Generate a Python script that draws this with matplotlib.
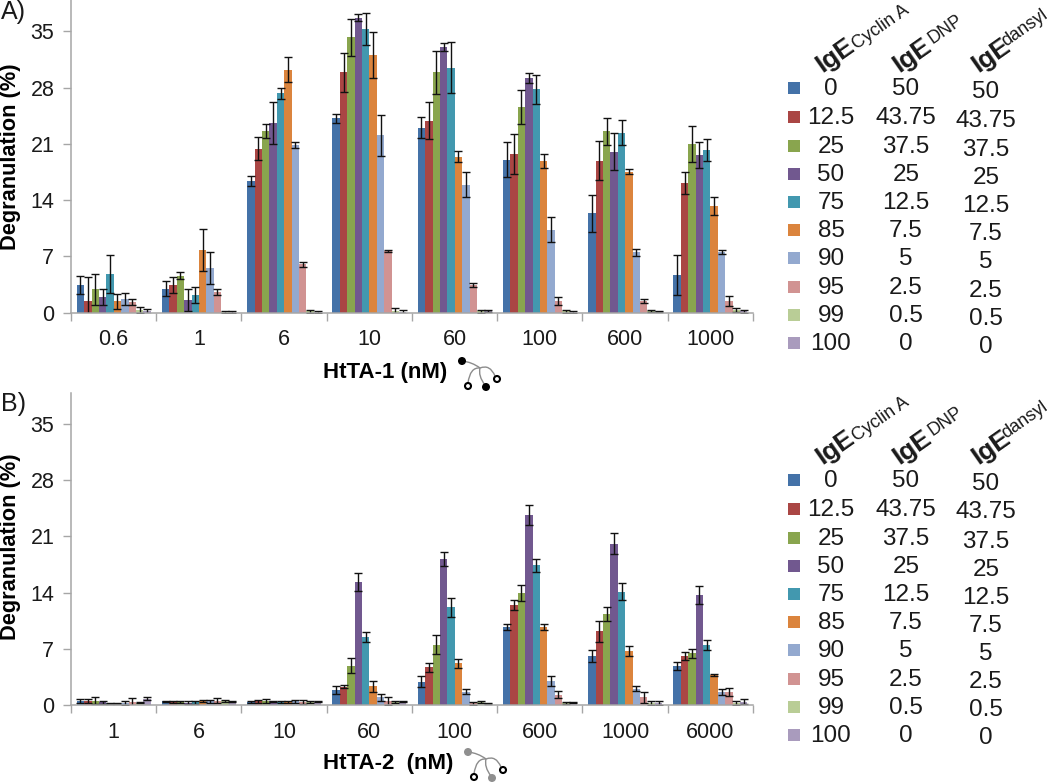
import matplotlib
matplotlib.use('Agg')
import matplotlib.pyplot as plt
import numpy as np
from matplotlib.patches import Circle, PathPatch, Rectangle
from matplotlib.path import Path

plt.rcParams['font.family'] = ['Liberation Sans', 'DejaVu Sans']

# Legend columns
cyclin = ['0', '12.5', '25', '50', '75', '85', '90', '95', '99', '100']
dnp = ['50', '43.75', '37.5', '25', '12.5', '7.5', '5', '2.5', '0.5', '0']
dansyl = ['50', '43.75', '37.5', '25', '12.5', '7.5', '5', '2.5', '0.5', '0']
colors = ['#4472A8', '#AA4644', '#89A54E', '#71588F', '#4298AF',
          '#DB843D', '#93A9CF', '#D19392', '#B9CD96', '#A99BBD']

# Panel A, one row per concentration
labels_a = ['0.6', '1', '6', '10', '60', '100', '600', '1000']
vals_a = np.array([
    [3.45, 1.4, 2.9, 1.9, 4.8, 1.4, 1.7, 1.3, 0.35, 0.15],
    [3.0, 3.5, 4.6, 1.6, 2.15, 7.8, 5.55, 2.6, 0.12, 0.08],
    [16.4, 20.4, 22.6, 23.6, 27.3, 30.2, 20.85, 6.0, 0.15, 0.12],
    [24.2, 29.9, 34.25, 36.7, 35.3, 32.05, 22.05, 7.7, 0.2, 0.1],
    [23.0, 23.9, 29.9, 33.0, 30.5, 19.4, 15.9, 3.45, 0.15, 0.2],
    [19.05, 19.7, 25.6, 29.2, 27.8, 18.9, 10.3, 1.45, 0.15, 0.08],
    [12.35, 18.9, 22.55, 20.0, 22.4, 17.55, 7.5, 1.4, 0.2, 0.15],
    [4.7, 16.1, 21.0, 19.65, 20.25, 13.3, 7.6, 1.45, 0.33, 0.15],
])
errs_a = np.array([
    [1.15, 3.0, 1.9, 1.0, 2.4, 0.95, 0.8, 0.4, 0.4, 0.25],
    [0.9, 1.0, 0.45, 1.4, 1.0, 2.65, 1.95, 0.4, 0.15, 0.08],
    [0.6, 1.45, 0.9, 2.6, 0.7, 1.55, 0.4, 0.3, 0.15, 0.12],
    [0.55, 2.45, 2.3, 0.45, 2.0, 2.9, 2.6, 0.15, 0.35, 0.2],
    [1.3, 2.35, 2.7, 0.5, 3.15, 0.7, 1.55, 0.3, 0.15, 0.15],
    [2.15, 2.5, 2.15, 0.6, 1.8, 0.85, 1.55, 0.55, 0.15, 0.08],
    [2.3, 2.45, 1.65, 2.3, 1.55, 0.35, 0.4, 0.25, 0.1, 0.1],
    [2.45, 1.35, 2.25, 1.6, 1.35, 1.1, 0.25, 0.6, 0.25, 0.15],
])

# Panel B
labels_b = ['1', '6', '10', '60', '100', '600', '1000', '6000']
vals_b = np.array([
    [0.45, 0.5, 0.55, 0.35, 0.2, 0.2, 0.3, 0.35, 0.3, 0.8],
    [0.45, 0.4, 0.35, 0.3, 0.35, 0.5, 0.45, 0.55, 0.5, 0.45],
    [0.4, 0.45, 0.5, 0.45, 0.4, 0.4, 0.45, 0.4, 0.4, 0.45],
    [1.85, 2.3, 4.9, 15.3, 8.45, 2.35, 0.95, 0.55, 0.35, 0.45],
    [2.9, 4.7, 7.5, 18.2, 12.15, 5.2, 1.65, 0.2, 0.35, 0.2],
    [9.75, 12.45, 14.0, 23.65, 17.4, 9.75, 3.0, 1.3, 0.25, 0.3],
    [6.1, 9.2, 11.3, 20.1, 14.1, 6.7, 2.05, 0.95, 0.25, 0.25],
    [4.9, 6.1, 6.45, 13.7, 7.45, 3.7, 1.65, 1.6, 0.25, 0.4],
])
errs_b = np.array([
    [0.25, 0.2, 0.4, 0.2, 0.1, 0.1, 0.25, 0.55, 0.1, 0.2],
    [0.1, 0.1, 0.1, 0.15, 0.2, 0.15, 0.15, 0.35, 0.15, 0.1],
    [0.1, 0.15, 0.2, 0.1, 0.1, 0.1, 0.2, 0.25, 0.1, 0.1],
    [0.5, 0.2, 0.9, 1.1, 0.6, 0.7, 0.45, 0.5, 0.1, 0.1],
    [0.7, 0.55, 1.2, 0.85, 1.15, 0.55, 0.3, 0.15, 0.1, 0.1],
    [0.35, 0.6, 1.0, 1.25, 0.8, 0.4, 0.6, 0.4, 0.1, 0.1],
    [0.8, 1.3, 0.85, 1.3, 1.05, 0.6, 0.35, 0.65, 0.2, 0.2],
    [0.5, 0.45, 0.55, 1.1, 0.6, 0.1, 0.4, 0.5, 0.2, 0.3],
])

AXIS = '#A6A6A6'
INK = '#1A1A1A'
W, H = 1050, 784


def axes_from_px(fig, left, right, top, bottom):
    return fig.add_axes([left / W, 1 - bottom / H, (right - left) / W, (bottom - top) / H])


def draw_panel(ax, vals, errs, labels):
    bar_w = 0.0868
    start = 0.067
    x = np.arange(len(labels))
    for i, c in enumerate(colors):
        pos = x + start + bar_w * (i + 0.5)
        ax.bar(pos, vals[:, i], bar_w, color=c, linewidth=0)
        ax.errorbar(pos, vals[:, i], yerr=errs[:, i], fmt='none', ecolor='#111111',
                    elinewidth=1.0, capsize=2.7, capthick=1.0)
    ax.set_xlim(0, len(labels))
    ax.set_ylim(0, 38.9)
    ax.set_yticks(range(0, 36, 7))
    ax.set_xticks(x.tolist() + [len(labels)])
    ax.set_xticklabels([])
    ax.set_xticks(x + 0.5, labels, minor=True)
    ax.tick_params(axis='x', which='major', length=6, width=1, color=AXIS)
    ax.tick_params(axis='x', which='minor', length=0, pad=12, labelsize=15.5, labelcolor=INK)
    ax.tick_params(axis='y', length=6, width=1, color=AXIS, pad=6, labelsize=15.5, labelcolor=INK)
    for s in ['top', 'right']:
        ax.spines[s].set_visible(False)
    for s in ['left', 'bottom']:
        ax.spines[s].set_color(AXIS)
        ax.spines[s].set_linewidth(1.1)


def draw_legend(ov, dy):
    rows = [88, 117, 146, 174, 202, 230, 258, 287, 315, 343]
    for r, c, a, b, d in zip(rows, colors, cyclin, dnp, dansyl):
        ov.add_patch(Rectangle((787.5, r - 6 + dy), 12, 12, color=c, lw=0))
        ov.text(831, r + 1 + dy, a, ha='center', va='center', fontsize=17.5, color=INK)
        ov.text(906, r + 1 + dy, b, ha='center', va='center', fontsize=17.5, color=INK)
        ov.text(986, r + 3.5 + dy, d, ha='center', va='center', fontsize=17.5, color=INK)
    heads = [(822, 857, 50, 'Cyclin A'), (899, 933, 44, 'DNP'), (978, 1006, 47, 'dansyl')]
    for x0, x1, y1, sup in heads:
        ov.text(x0, 73 + dy, 'IgE', rotation=35, rotation_mode='anchor', ha='left', va='baseline',
                fontsize=19, fontweight='bold', color=INK)
        ov.text(x1, y1 + dy, sup, rotation=35, rotation_mode='anchor', ha='left', va='baseline',
                fontsize=13, color=INK)


def draw_icon(ov, dx, dy, fill):
    hub = (480, 368)
    arms = [[(462, 361), (472, 362), hub],
            [hub, (490, 364), (495, 376)],
            [hub, (470, 367), (468, 383)],
            [hub, (478, 376), (485, 385)]]
    for a in arms:
        pts = [(p[0] + dx, p[1] + dy) for p in a]
        ov.add_patch(PathPatch(Path(pts, [Path.MOVETO, Path.CURVE3, Path.CURVE3]), fc='none',
                               ec='#8C8C8C', lw=1.0))
    ov.add_patch(Circle((462 + dx, 361 + dy), 4, fc=fill, ec=fill, lw=0))
    ov.add_patch(Circle((486 + dx, 387 + dy), 4, fc=fill, ec=fill, lw=0))
    ov.add_patch(Circle((497 + dx, 379 + dy), 3, fc='white', ec='black', lw=1.5))
    ov.add_patch(Circle((468 + dx, 386 + dy), 3, fc='white', ec='black', lw=1.5))


fig = plt.figure(figsize=(10.5, 7.84), dpi=100)

ax_a = axes_from_px(fig, 71, 753, 0, 312.7)
draw_panel(ax_a, vals_a, errs_a, labels_a)
ax_b = axes_from_px(fig, 71, 753, 392.7, 705)
draw_panel(ax_b, vals_b, errs_b, labels_b)

# overlay in pixel coordinates for the free text and the legend
ov = fig.add_axes([0, 0, 1, 1], zorder=5)
ov.set_xlim(0, W)
ov.set_ylim(H, 0)
ov.axis('off')

ov.text(1, 12, 'A)', fontsize=18, va='center', ha='left', color=INK)
ov.text(1, 404, 'B)', fontsize=18, va='center', ha='left', color=INK)
ov.text(11, 157, 'Degranulation (%)', rotation=90, fontsize=15.7, fontweight='bold', ha='center', va='center')
ov.text(11, 547, 'Degranulation (%)', rotation=90, fontsize=15.7, fontweight='bold', ha='center', va='center')
ov.text(323, 372, 'HtTA-1 (nM)', fontsize=16, fontweight='bold', ha='left', va='center')
ov.text(323, 763, 'HtTA-2  (nM)', fontsize=16, fontweight='bold', ha='left', va='center')

draw_legend(ov, 0)
draw_legend(ov, 392)
draw_icon(ov, 0, 0, 'black')
draw_icon(ov, 6, 391, '#8F8F8F')

fig.savefig('out.png', dpi=100)
